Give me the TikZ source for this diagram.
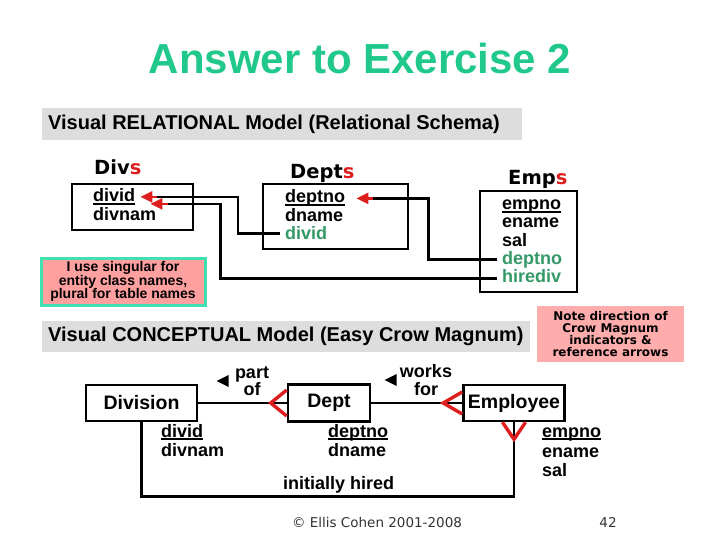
\documentclass[tikz,border=0pt]{standalone}
\usepackage{fontspec}
\setmainfont{Liberation Sans}
\newfontfamily\verdfont{DejaVu Sans}
\usepackage{tikz}
\usetikzlibrary{arrows.meta,positioning,shapes.geometric}
\definecolor{titlegreen}{RGB}{32,200,140}
\definecolor{fkgreen}{RGB}{51,153,102}
\definecolor{hdrgray}{RGB}{221,221,221}
\definecolor{notepink}{RGB}{255,160,160}
\definecolor{notepinklt}{RGB}{255,172,172}
\definecolor{noteteal}{RGB}{64,224,176}
\definecolor{crowred}{RGB}{220,30,30}
% underlined key attribute
\newcommand{\pkey}[1]{\setbox0=\hbox{#1}\rlap{\rule[-2.8pt]{\wd0}{1.7pt}}\box0}
\tikzset{
  hdrbar/.style={fill=hdrgray, anchor=west, inner xsep=6pt, inner ysep=0pt,
                 minimum height=32pt, font=\fontsize{20}{22}\selectfont\bfseries},
  tbl/.style={draw=black, line width=2.6pt, inner sep=0pt},
  tname/.style={anchor=base west, inner sep=0pt,
                font=\verdfont\fontsize{19.5}{21}\selectfont\bfseries},
  attr/.style={anchor=base west, inner xsep=5pt, inner ysep=0pt,
               font=\fontsize{18}{19}\selectfont\bfseries},
  fk/.style={draw=black, line width=2.6pt},
  fkhead/.style={draw=crowred, line width=2.6pt, -{Triangle[length=12pt,width=11pt]}},
}

\begin{document}
\begin{tikzpicture}[x=1pt,y=-1pt,
    ent/.style={draw=black, line width=2.6pt, inner sep=0pt,
                font=\fontsize{19.5}{21}\selectfont\bfseries},
    rel/.style={draw=black, line width=2.6pt},
    crow/.style={draw=crowred, line width=3.4pt},
    lbl/.style={align=center, inner sep=0pt, font=\fontsize{18}{17.5}\selectfont\bfseries},
    dirtri/.style={isosceles triangle, isosceles triangle stretches, shape border rotate=180,
                   fill=black, inner sep=0pt, minimum width=12pt, minimum height=12pt},
    note/.style={align=center, inner sep=0pt}]
  \useasboundingbox (0,0) rectangle (720,540);
  \node[font=\fontsize{42}{46}\selectfont\bfseries, text=titlegreen] (title) at (360,58)
    {Answer to Exercise 2};

  % relational schema
  \node[hdrbar] (relhdr) at (42,124) {\makebox[468pt][l]{Visual RELATIONAL Model (Relational Schema)}};
  \node[tbl, minimum width=121pt, minimum height=46pt] (divs) at (132.5,207) {};
  \node[tbl, minimum width=145pt, minimum height=65pt] (depts) at (335.5,216.5) {};
  \node[tbl, minimum width=97pt, minimum height=101pt] (emps) at (528.5,241.5) {};
  \node[tname] (divs-t) at (94,175) {Div\textcolor{crowred}{s}};
  \node[tname] (depts-t) at (290,179) {Dept\textcolor{crowred}{s}};
  \node[tname] (emps-t) at (508,185) {Emp\textcolor{crowred}{s}};
  \node[attr] (dv-divid) at (88,202) {\pkey{divid}};
  \node[attr] (dv-divnam) at (88,221) {divnam};
  \node[attr] (dp-deptno) at (280,203) {\pkey{deptno}};
  \node[attr] (dp-dname) at (280,222) {dname};
  \node[attr, text=fkgreen] (dp-divid) at (280,240) {divid};
  \node[attr] (em-empno) at (497,210) {\pkey{empno}};
  \node[attr] (em-ename) at (497,228) {ename};
  \node[attr] (em-sal) at (497,246) {sal};
  \node[attr, text=fkgreen] (em-deptno) at (497,264) {deptno};
  \node[attr, text=fkgreen] (em-hirediv) at (497,282) {hirediv};
  % foreign keys
  \draw[fk] (dp-divid.west) -- ++(-42,0) |- ([xshift=17pt]dv-divid.east);
  \draw[fkhead] ([xshift=17pt]dv-divid.east) -- (dv-divid.east);
  \draw[fk] ([yshift=-3pt]em-hirediv.west) -| ([xshift=80pt,yshift=-7pt]dv-divid.east)
    -- ([xshift=28pt,yshift=-7pt]dv-divid.east);
  \draw[fkhead] ([xshift=28pt,yshift=-7pt]dv-divid.east) -- ([xshift=10pt,yshift=-7pt]dv-divid.east);
  \draw[fk] (em-deptno.west) -| ([xshift=78pt]dp-deptno.east) -- ([xshift=23pt]dp-deptno.east);
  \draw[fkhead] ([xshift=23pt]dp-deptno.east) -- ([xshift=6pt]dp-deptno.east);

  \node[note, fill=notepink, draw=noteteal, line width=3pt, minimum width=164pt, minimum height=47pt,
        font=\fontsize{14}{13.5}\selectfont\bfseries] (singnote) at (123,281.5)
    {I use singular for\\entity class names,\\plural for table names};

  % conceptual model
  \node[hdrbar, minimum height=31pt] (conhdr) at (42,336.5)
    {\makebox[476pt][l]{Visual CONCEPTUAL Model (Easy Crow Magnum)}};
  \node[note, fill=notepinklt, minimum width=147pt, minimum height=56pt,
        font=\verdfont\fontsize{12}{11.8}\selectfont\bfseries] (dirnote) at (610.5,334)
    {Note direction of\\Crow Magnum\\indicators \&\\reference arrows};

  \node[ent, minimum width=111pt, minimum height=36pt] (division) at (141.5,403) {Division};
  \node[ent, minimum width=82pt, minimum height=37pt] (dept) at (329,403) {Dept};
  \node[ent, minimum width=101pt, minimum height=36pt] (employee) at (514,403) {Employee};
  \draw[rel] (division) -- (dept);
  \draw[rel] (dept) -- (employee);
  \draw[rel] (division.south) -- ++(0,74) -| (employee.south);
  \draw[crow] ([yshift=13pt]dept.west) -- ([xshift=-16pt]dept.west) -- ([yshift=-13pt]dept.west);
  \draw[crow] ([yshift=11pt]employee.west) -- ([xshift=-19pt]employee.west) -- ([yshift=-11pt]employee.west);
  \draw[crow] ([xshift=-11.5pt]employee.south) -- ([yshift=-17pt]employee.south)
    -- ([xshift=11.5pt]employee.south);

  \node[lbl] (partof) at (252,381) {part\\of};
  \node[dirtri, left=6pt of partof] (partof-dir) {};
  \node[lbl] (worksfor) at (426,380) {works\\for};
  \node[dirtri, left=3pt of worksfor] (worksfor-dir) {};

  \node[attr] (dv-divid2) at (156,437) {\pkey{divid}};
  \node[attr] (dv-divnam2) at (156,456) {divnam};
  \node[attr] (dp-deptno2) at (323,437) {\pkey{deptno}};
  \node[attr] (dp-dname2) at (323,456) {dname};
  \node[attr] (em-empno2) at (537,437) {\pkey{empno}};
  \node[attr] (em-ename2) at (537,457) {ename};
  \node[attr] (em-sal2) at (537,476) {sal};
  \node[attr] (hired) at (278,489) {initially hired};

  % footer
  \node[font=\verdfont\fontsize{13.5}{15}\selectfont, text=black!80] (copyr) at (377,522)
    {© Ellis Cohen 2001-2008};
  \node[font=\verdfont\fontsize{13.5}{15}\selectfont, text=black!80] (pageno) at (608,522) {42};
\end{tikzpicture}
\end{document}
